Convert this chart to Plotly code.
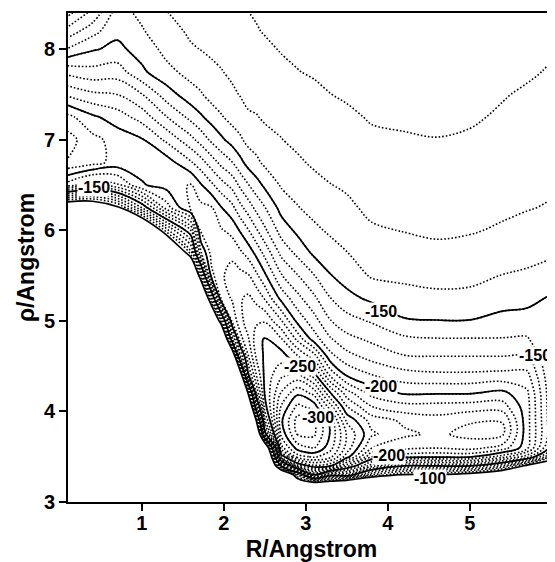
import numpy as np
import plotly.graph_objects as go

# Grid nodes (R and rho, Angstrom)
R_nodes = [0.1, 0.4, 0.7, 1.0, 1.3, 1.6, 1.72, 1.85, 1.97, 2.1, 2.2, 2.3, 2.4, 2.5,
           2.7, 2.9, 3.1, 3.3, 3.5, 3.8, 4.2, 4.6, 5.0, 5.4, 5.7, 6.05]
rho_nodes = [3.0, 3.2, 3.3, 3.4, 3.5, 3.6, 3.75, 3.9, 4.05, 4.2, 4.4, 4.6, 4.8, 5.0,
             5.25, 5.5, 5.75, 6.0, 6.25, 6.5, 6.75, 7.0, 7.25, 7.5, 7.75, 8.0, 8.2, 8.45]

# Energy read along each R column, bottom (rho=3.0) to top (rho=8.45).
# 0 marks the repulsive wall region (above the highest drawn level).
E_R010 = [0, 0, 0, 0, 0, 0, 0, 0, 0, 0, 0, 0, 0, 0, 0, 0, 0, 0,
          -70, -185, -219, -224, -213, -188, -167, -141, -124, -103]
E_R040 = [0, 0, 0, 0, 0, 0, 0, 0, 0, 0, 0, 0, 0, 0, 0, 0, 0, 0,
          -72, -170, -214, -213, -202, -182, -163.5, -149, -136.5, -119]
E_R070 = [0, 0, 0, 0, 0, 0, 0, 0, 0, 0, 0, 0, 0, 0, 0, 0, 0,
          -30, -95, -178, -206, -206, -195, -180, -165, -152.5, -147.5, -143]
E_R100 = [0, 0, 0, 0, 0, 0, 0, 0, 0, 0, 0, 0, 0, 0, 0, 0, 0,
          -50, -140, -199, -204, -201, -186, -170.5, -152, -146, -141, -137]
E_R130 = [0, 0, 0, 0, 0, 0, 0, 0, 0, 0, 0, 0, 0, 0, 0, 0,
          -40, -115, -185, -204, -205, -188, -170.5, -155, -143, -137, -133.5, -129.5]
E_R160 = [0, 0, 0, 0, 0, 0, 0, 0, 0, 0, 0, 0, 0, 0, 0,
          -40, -115, -160.5, -212, -211, -191, -173, -157, -144, -136.5, -131, -128.5, -126]
E_R172 = [0, 0, 0, 0, 0, 0, 0, 0, 0, 0, 0, 0, 0, 0,
          -40, -115, -188, -212, -213, -201, -184, -166, -151.5, -141, -134.5, -129.8,
          -127.5, -125]
E_R185 = [0, 0, 0, 0, 0, 0, 0, 0, 0, 0, 0, 0, 0,
          -40, -127, -207, -214, -215, -211, -192, -175, -158, -146, -136, -132, -128.5,
          -126.5, -124.5]
E_R197 = [0, 0, 0, 0, 0, 0, 0, 0, 0, 0, 0, 0,
          -28, -118, -214, -218, -217, -211, -200.5, -184, -167, -152, -141, -134, -130.5,
          -127, -125, -123]
E_R210 = [0, 0, 0, 0, 0, 0, 0, 0, 0, 0, 0,
          -50, -165, -212, -221, -225, -217, -207, -193, -177, -160.5, -146, -136.5, -132,
          -128, -125.5, -123.5, -121.5]
E_R220 = [0, 0, 0, 0, 0, 0, 0, 0, 0, 0,
          -75, -175, -216, -226, -229, -223, -212, -199, -183, -168, -153, -141.5, -135,
          -129.5, -126, -124, -122.3, -120.6]
E_R230 = [0, 0, 0, 0, 0, 0, 0, 0,
          -40, -105, -198, -219, -229, -236, -232, -221, -206, -190.5, -175, -160.5, -146,
          -137, -131.5, -127, -124.5, -122.8, -121.3, -119.8]
E_R240 = [0, 0, 0, 0, 0, 0,
          -40, -105, -175, -212, -230.5, -242, -246, -238, -227, -212, -197, -181, -167,
          -154, -142, -135.5, -130.5, -127, -124.5, -122.5, -120.5, -119]
E_R250 = [0, 0, 0, 0, 0,
          -50, -192, -228, -245, -251, -253, -252, -251, -239, -219, -202, -187, -172,
          -160.5, -148, -138, -133, -128.8, -126.5, -124, -121.5, -119.5, -118]
E_R270 = [0, 0, -40, -151, -241, -276, -293, -298, -291, -281, -268, -256, -241, -221,
          -197, -181, -167.5, -156, -146.5, -139, -134.5, -130.3, -127.5, -125, -122,
          -119.5, -118.3, -117]
E_R290 = [0, -70, -121, -236, -285, -305, -321, -324, -313, -298, -273, -242, -217, -197,
          -183, -170.5, -157.5, -147.5, -140.5, -136.5, -131.5, -127.7, -125, -122.7,
          -120.2, -118.8, -117.5, -116]
E_R310 = [0, -80, -199, -258, -292, -311, -322, -322, -306, -287, -255, -226, -195, -184,
          -172, -160.5, -148, -142, -137, -133, -128.5, -126, -124, -121.5, -119.3,
          -117.8, -116.5, -115]
E_R330 = [0, -75, -158, -252, -283, -294, -299, -296, -275, -251, -218, -194, -181,
          -170.5, -160.3, -150.5, -144, -138.5, -134.5, -130.2, -127.5, -125, -122.5,
          -120.1, -118.5, -117, -115.5, -114]
E_R350 = [0, -60, -161, -215, -255, -266, -269, -258, -241, -225, -199, -184, -173, -164,
          -153, -146, -140.3, -136, -131.5, -129, -126.5, -124, -121.5, -119, -117.5,
          -116, -114.5, -113]
E_R380 = [0, -40, -120.5, -175, -210.5, -230.5, -242, -236, -220.5, -207, -190.5, -177,
          -168, -159, -148, -139, -134.5, -131, -128.3, -126, -124, -121.5, -119.3,
          -117.6, -116, -114.5, -113.3, -112]
E_R420 = [0, -20, -98, -151, -204, -223, -232, -228, -214, -199, -184, -171, -162, -151,
          -143.5, -138, -133.5, -129.7, -127.3, -125.3, -123.3, -120.7, -118.8, -117.2,
          -115.8, -114.5, -113.3, -112]
E_R460 = [0, -20, -98, -151, -202, -221, -228, -224, -214, -199.5, -182, -170.5, -160.5,
          -150.3, -142.5, -136.5, -132, -128.7, -126.5, -124.5, -122.3, -120.2, -118.5,
          -117.3, -116, -115, -114, -113]
E_R500 = [0, -20, -90, -151, -202, -224, -233, -229, -215, -199.5, -182, -170.5, -160.5,
          -150.3, -143, -137, -133, -129.3, -127.3, -125.2, -123, -121, -119, -117.8,
          -116.8, -115.8, -115, -114]
E_R540 = [0, -30, -70, -131, -185, -216, -232, -229.5, -215, -203, -183, -170.5, -160.5,
          -153, -146, -140.3, -135, -131, -128.5, -127, -125.5, -123, -121, -119.5,
          -118.5, -117.5, -117, -116]
E_R570 = [0, -20, -40, -95, -165, -193, -194, -194, -194, -192, -183, -171, -161, -154,
          -147, -142, -136, -133, -129.5, -128, -126, -124.5, -123, -121, -119, -118,
          -117, -116]
E_R605 = [0, 0, 0, -80, -108, -137, -147, -146, -145, -145, -145, -145.5, -147, -151,
          -152, -145, -139, -135, -131, -129, -127.5, -126, -124.5, -123, -121, -119.6,
          -118.5, -117]

columns = [E_R010, E_R040, E_R070, E_R100, E_R130, E_R160, E_R172, E_R185, E_R197,
           E_R210, E_R220, E_R230, E_R240, E_R250, E_R270, E_R290, E_R310, E_R330,
           E_R350, E_R380, E_R420, E_R460, E_R500, E_R540, E_R570, E_R605]

# Contour label texts and where they sit
label_text = ["-150", "-150", "-150", "-200", "-200", "-250", "-300", "-100"]
label_R = [0.42, 3.92, 5.79, 3.92, 4.01, 2.93, 3.15, 4.51]
label_rho = [6.47, 5.10, 4.62, 4.28, 3.51, 4.50, 3.93, 3.26]

Z = np.array(columns, dtype=float).T

FONT = "Arial, 'Liberation Sans', Helvetica, sans-serif"

fig = go.Figure()
fig.add_trace(go.Contour(
    x=R_nodes, y=rho_nodes, z=Z, showscale=False, hoverinfo="skip",
    autocontour=False,
    contours=dict(start=-330, end=-110, size=10, coloring="none"),
    line=dict(color="black", width=1.6, dash="1.6px,2px", smoothing=1.0),
))
fig.add_trace(go.Contour(
    x=R_nodes, y=rho_nodes, z=Z, showscale=False, hoverinfo="skip",
    autocontour=False,
    contours=dict(start=-300, end=-100, size=50, coloring="none"),
    line=dict(color="black", width=1.7, smoothing=1.0),
))

for t, xr, yr in zip(label_text, label_R, label_rho):
    fig.add_annotation(x=xr, y=yr, xref="x", yref="y", text=t, showarrow=False,
                       bgcolor="white", borderpad=0,
                       font=dict(family=FONT, size=16, color="black", weight="bold"))

# the page body adds an 8 px offset, so the figure is sized to end at the window edge
fig.update_layout(
    width=547, height=554,
    margin=dict(l=60, r=0, t=5, b=60),
    paper_bgcolor="white", plot_bgcolor="white",
    showlegend=False,
    font=dict(family=FONT, color="black"),
)
fig.update_xaxes(
    range=[0.1, 6.04], tickvals=[1, 2, 3, 4, 5, 6],
    ticks="outside", ticklen=7, tickwidth=2, tickcolor="black",
    ticklabelstandoff=-5,
    showline=True, linewidth=2, linecolor="black", mirror=True,
    showgrid=False, zeroline=False, automargin=False,
    tickfont=dict(family=FONT, size=20, weight="bold"),
    title=dict(text="R/Angstrom", font=dict(family=FONT, size=23, weight="bold"),
               standoff=12),
)
fig.update_yaxes(
    range=[3, 8.4], tickvals=[3, 4, 5, 6, 7, 8],
    ticks="outside", ticklen=7, tickwidth=2, tickcolor="black",
    showline=True, linewidth=2, linecolor="black", mirror=False,
    showgrid=False, zeroline=False, automargin=False,
    tickfont=dict(family=FONT, size=20, weight="bold"),
    title=dict(text="ρ/Angstrom", font=dict(family=FONT, size=23, weight="bold"),
               standoff=3),
)

fig.write_html("out.html")
